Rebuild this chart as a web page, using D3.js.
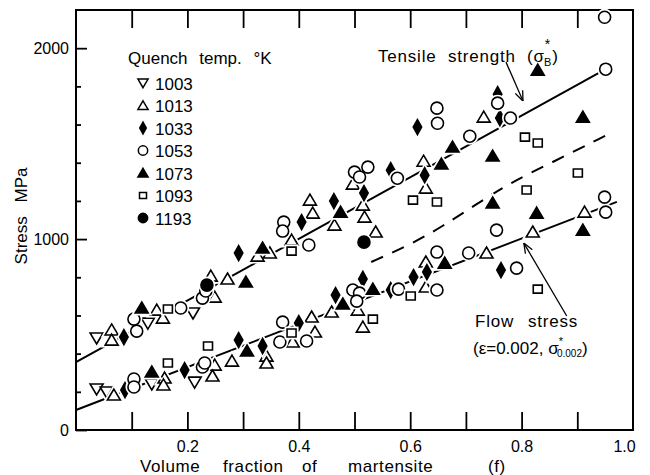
<!DOCTYPE html>
<html>
<head>
<meta charset="utf-8">
<script src="https://cdn.jsdelivr.net/npm/d3@7"></script>
<style>
body { margin: 0; background: #fff; }
text { font-family: "Liberation Sans", Arial, sans-serif; fill: #000; }
</style>
</head>
<body>
<script>
var w = 650;
var h = 475;

// quench temperatures (legend order)
var temps = ["1003", "1013", "1033", "1053", "1073", "1093", "1193"];

// [volume fraction f, stress MPa]
var s1003 = [[0.037, 482], [0.129, 560], [0.210, 613],
             [0.037, 215], [0.055, 199], [0.136, 241], [0.213, 251]];

var s1013 = [[0.064, 524], [0.064, 471], [0.145, 628], [0.156, 586], [0.242, 806],
             [0.249, 696], [0.272, 791], [0.326, 911], [0.348, 927], [0.387, 995],
             [0.420, 1204], [0.425, 1136], [0.464, 1073], [0.497, 1288], [0.515, 1178],
             [0.518, 1115], [0.624, 1408], [0.628, 1267], [0.732, 1639],
             [0.068, 183], [0.159, 272], [0.157, 236], [0.249, 340], [0.245, 283],
             [0.280, 361], [0.342, 387], [0.342, 351], [0.389, 461], [0.423, 592],
             [0.429, 513], [0.459, 618], [0.506, 628], [0.515, 539], [0.538, 1037],
             [0.628, 880], [0.628, 749], [0.737, 927], [0.820, 1037], [0.913, 1141]];

var s1033 = [[0.086, 487], [0.292, 927], [0.405, 1089], [0.463, 1199], [0.517, 1241],
             [0.565, 1361], [0.626, 1335], [0.613, 1587], [0.757, 1759], [0.761, 1634],
             [0.088, 209], [0.195, 314], [0.292, 471], [0.335, 440], [0.400, 560],
             [0.466, 707], [0.515, 791], [0.565, 733], [0.606, 801], [0.630, 827], [0.763, 838]];

var s1053 = [[0.104, 581], [0.109, 518], [0.188, 639], [0.227, 691], [0.233, 728],
             [0.373, 1089], [0.371, 1042], [0.418, 969], [0.500, 1351], [0.509, 1325],
             [0.524, 1377], [0.577, 1319], [0.648, 1686], [0.649, 1607], [0.707, 1539],
             [0.757, 1712], [0.780, 1634], [0.949, 2162], [0.951, 1890],
             [0.104, 267], [0.104, 225], [0.227, 330], [0.231, 351], [0.371, 565],
             [0.366, 461], [0.414, 466], [0.497, 733], [0.509, 717], [0.504, 675],
             [0.579, 738], [0.648, 932], [0.648, 733], [0.705, 927], [0.755, 1047],
             [0.791, 848], [0.949, 1220], [0.951, 1141]];

var s1073 = [[0.118, 639], [0.305, 775], [0.335, 953], [0.475, 1141], [0.656, 1393],
             [0.676, 1482], [0.748, 1435], [0.748, 1189], [0.829, 1885], [0.910, 1639],
             [0.827, 1136], [0.910, 1047],
             [0.136, 304], [0.307, 414], [0.479, 660], [0.533, 738], [0.662, 874]];

var s1093 = [[0.165, 634], [0.387, 937], [0.605, 1204], [0.648, 1194], [0.806, 1534],
             [0.829, 1503], [0.901, 1346], [0.809, 1257],
             [0.165, 351], [0.237, 440], [0.387, 508], [0.533, 581], [0.601, 702], [0.829, 738]];

var s1193 = [[0.235, 759], [0.517, 984]];

// fitted lines
var tensileLine = [[0, 356], [0.951, 1890]];
var flowLine = [[0, 105], [0.971, 1195]];
var midCurve = [[0.53, 880], [0.60, 970], [0.66, 1070], [0.72, 1185],
                [0.78, 1295], [0.85, 1395], [0.955, 1548]];

// ticks
var xMinor = [0.1, 0.2, 0.3, 0.4, 0.5, 0.6, 0.7, 0.8, 0.9];
var xLabels = [0.2, 0.4, 0.6, 0.8, 1.0];
var yMajor = [0, 1000, 2000];
var yMinor = [200, 400, 600, 800, 1200, 1400, 1600, 1800];

var svg = d3.select("body").append("svg")
    .attr("width", w)
    .attr("height", h);

var x = d3.scaleLinear().domain([0, 1]).range([76, 633]);
var y = d3.scaleLinear().domain([0, 2200]).range([430, 10]);

// shapes, k = scale
function shape(kind, k) {
  var p;
  if (kind == "tdown") p = "M0," + 6*k + "L" + 6.5*k + "," + (-5*k) + "L" + (-6.5*k) + "," + (-5*k) + "Z";
  else if (kind == "tup" || kind == "tfill") p = "M0," + (-6*k) + "L" + 6.5*k + "," + 5*k + "L" + (-6.5*k) + "," + 5*k + "Z";
  else if (kind == "diamond") p = "M0," + (-7.5*k) + "L" + 4.2*k + ",0L0," + 7.5*k + "L" + (-4.2*k) + ",0Z";
  else if (kind == "square") p = "M" + (-4.5*k) + "," + (-4*k) + "h" + 9*k + "v" + 8*k + "h" + (-9*k) + "Z";
  else { var r = 6*k; p = "M" + r + ",0A" + r + "," + r + " 0 1,1 " + (-r) + ",0A" + r + "," + r + " 0 1,1 " + r + ",0Z"; }
  return p;
}

var series = [
  {name: temps[0], kind: "tdown", fill: "#fff", data: s1003},
  {name: temps[1], kind: "tup", fill: "#fff", data: s1013},
  {name: temps[2], kind: "diamond", fill: "#000", data: s1033},
  {name: temps[3], kind: "circle", fill: "#fff", data: s1053},
  {name: temps[4], kind: "tfill", fill: "#000", data: s1073},
  {name: temps[5], kind: "square", fill: "#fff", data: s1093},
  {name: temps[6], kind: "dot", fill: "#000", data: s1193}
];

// axes
var bottomTicks = d3.axisBottom(x).tickValues(xMinor).tickSize(-18).tickFormat("");
var topTicks = d3.axisTop(x).tickValues(xMinor).tickSize(-18).tickFormat("");
var bottomLabels = d3.axisBottom(x).tickValues(xLabels).tickSize(0).tickPadding(11)
    .tickFormat(d3.format(".1f"));
var leftMajor = d3.axisLeft(y).tickValues(yMajor).tickSize(-11).tickPadding(7)
    .tickFormat(d3.format("d"));
var leftMinor = d3.axisLeft(y).tickValues(yMinor).tickSize(-5).tickFormat("");

svg.append("g").attr("transform", "translate(0,430)").call(bottomTicks);
svg.append("g").attr("transform", "translate(0,10)").call(topTicks);
var bl = svg.append("g").attr("transform", "translate(0,430)").call(bottomLabels);
svg.append("g").attr("transform", "translate(76,0)").call(leftMajor);
svg.append("g").attr("transform", "translate(76,0)").call(leftMinor);

svg.selectAll(".domain").remove();
svg.selectAll(".tick line").attr("stroke", "#000").attr("stroke-width", 1.8);
svg.selectAll(".tick text").style("font-size", "16px").attr("fill", "#000");
// last label sits just inside the corner in the original
bl.selectAll(".tick text").filter(function(d) { return d == 1; }).attr("dx", -9);

// frame
svg.append("rect")
    .attr("x", x(0)).attr("y", y(2200))
    .attr("width", x(1) - x(0)).attr("height", y(0) - y(2200))
    .attr("fill", "none").attr("stroke", "#000").attr("stroke-width", 2);

// lines
var line = d3.line().x(function(d) { return x(d[0]); }).y(function(d) { return y(d[1]); });

svg.append("path").datum(tensileLine).attr("d", line)
    .attr("fill", "none").attr("stroke", "#000").attr("stroke-width", 2);
svg.append("path").datum(flowLine).attr("d", line)
    .attr("fill", "none").attr("stroke", "#000").attr("stroke-width", 2);
svg.append("path").datum(midCurve).attr("d", line.curve(d3.curveBasis))
    .attr("fill", "none").attr("stroke", "#000").attr("stroke-width", 2)
    .attr("stroke-dasharray", "13,10");

// points: white halo first, then mark
series.forEach(function(s) {
  var g = svg.append("g");
  g.selectAll(".halo").data(s.data).enter().append("path")
      .attr("class", "halo")
      .attr("d", shape(s.kind, 1))
      .attr("transform", function(d) { return "translate(" + x(d[0]) + "," + y(d[1]) + ")"; })
      .attr("fill", "#fff").attr("stroke", "#fff").attr("stroke-width", 5);
  g.selectAll(".mark").data(s.data).enter().append("path")
      .attr("class", "mark")
      .attr("d", shape(s.kind, 1))
      .attr("transform", function(d) { return "translate(" + x(d[0]) + "," + y(d[1]) + ")"; })
      .attr("fill", s.fill).attr("stroke", "#000").attr("stroke-width", 1.6);
});

// legend
svg.append("text")
    .attr("x", 128).attr("y", 64)
    .style("font-size", "17px").style("word-spacing", "7px")
    .text("Quench temp. \u00b0K");

var leg = svg.selectAll(".leg").data(series).enter().append("g")
    .attr("class", "leg")
    .attr("transform", function(d, i) { return "translate(143," + (83 + i * 22.5) + ")"; });
leg.append("path")
    .attr("d", function(d) { return shape(d.kind, 0.78); })
    .attr("fill", function(d) { return d.fill; })
    .attr("stroke", "#000").attr("stroke-width", 1.5);
leg.append("text")
    .attr("x", 12).attr("y", 6.5)
    .style("font-size", "17px")
    .text(function(d) { return d.name; });

// axis titles
svg.append("text")
    .attr("transform", "translate(27,216) rotate(-90)")
    .attr("text-anchor", "middle")
    .style("font-size", "17px").style("word-spacing", "9px")
    .text("Stress MPa");

var xt = svg.append("text").attr("y", 472).style("font-size", "17px").style("letter-spacing", "0.6px");
xt.append("tspan").attr("x", 140).text("Volume");
xt.append("tspan").attr("x", 223).text("fraction");
xt.append("tspan").attr("x", 302).text("of");
xt.append("tspan").attr("x", 348).text("martensite");
xt.append("tspan").attr("x", 488).text("(f)");

// annotations
svg.append("defs").append("marker")
    .attr("id", "arr").attr("viewBox", "0 0 10 10")
    .attr("refX", 10).attr("refY", 5)
    .attr("markerWidth", 10).attr("markerHeight", 10)
    .attr("markerUnits", "userSpaceOnUse")
    .attr("orient", "auto")
  .append("path")
    .attr("d", "M0,1L10,5L0,9")
    .attr("fill", "none").attr("stroke", "#000").attr("stroke-width", 1.3);

// tensile strength (sigma_B*)
var ts = svg.append("text").attr("y", 62).style("font-size", "17px").style("letter-spacing", "0.8px");
ts.append("tspan").attr("x", 378).text("Tensile");
ts.append("tspan").attr("x", 448).text("strength");
ts.append("tspan").attr("x", 527).text("(\u03c3");
ts.append("tspan").attr("dy", -13).style("font-size", "14px").text("*");
ts.append("tspan").attr("dx", -7).attr("dy", 17).style("font-size", "11px").text("B");
ts.append("tspan").attr("dy", -4).text(")");

svg.append("line")
    .attr("x1", x(0.772)).attr("y1", y(1927))
    .attr("x2", x(0.8025)).attr("y2", y(1723))
    .attr("stroke", "#000").attr("stroke-width", 1.3)
    .attr("marker-end", "url(#arr)");

var fs = svg.append("text").attr("y", 327).style("font-size", "17px").style("letter-spacing", "0.8px");
fs.append("tspan").attr("x", 475).text("Flow");
fs.append("tspan").attr("x", 528).text("stress");

// (epsilon=0.002, sigma*_0.002)
var fs2 = svg.append("text").attr("x", 473).attr("y", 354).style("font-size", "17px");
fs2.append("tspan").text("(\u03b5=0.002, \u03c3");
fs2.append("tspan").attr("dy", -9).style("font-size", "11px").text("*");
fs2.append("tspan").attr("dx", -6).attr("dy", 12).style("font-size", "10px").text("0.002");
fs2.append("tspan").attr("dy", -3).text(")");

svg.append("line")
    .attr("x1", x(0.881)).attr("y1", y(597))
    .attr("x2", x(0.804)).attr("y2", y(979))
    .attr("stroke", "#000").attr("stroke-width", 1.3)
    .attr("marker-end", "url(#arr)");
</script>
</body>
</html>
